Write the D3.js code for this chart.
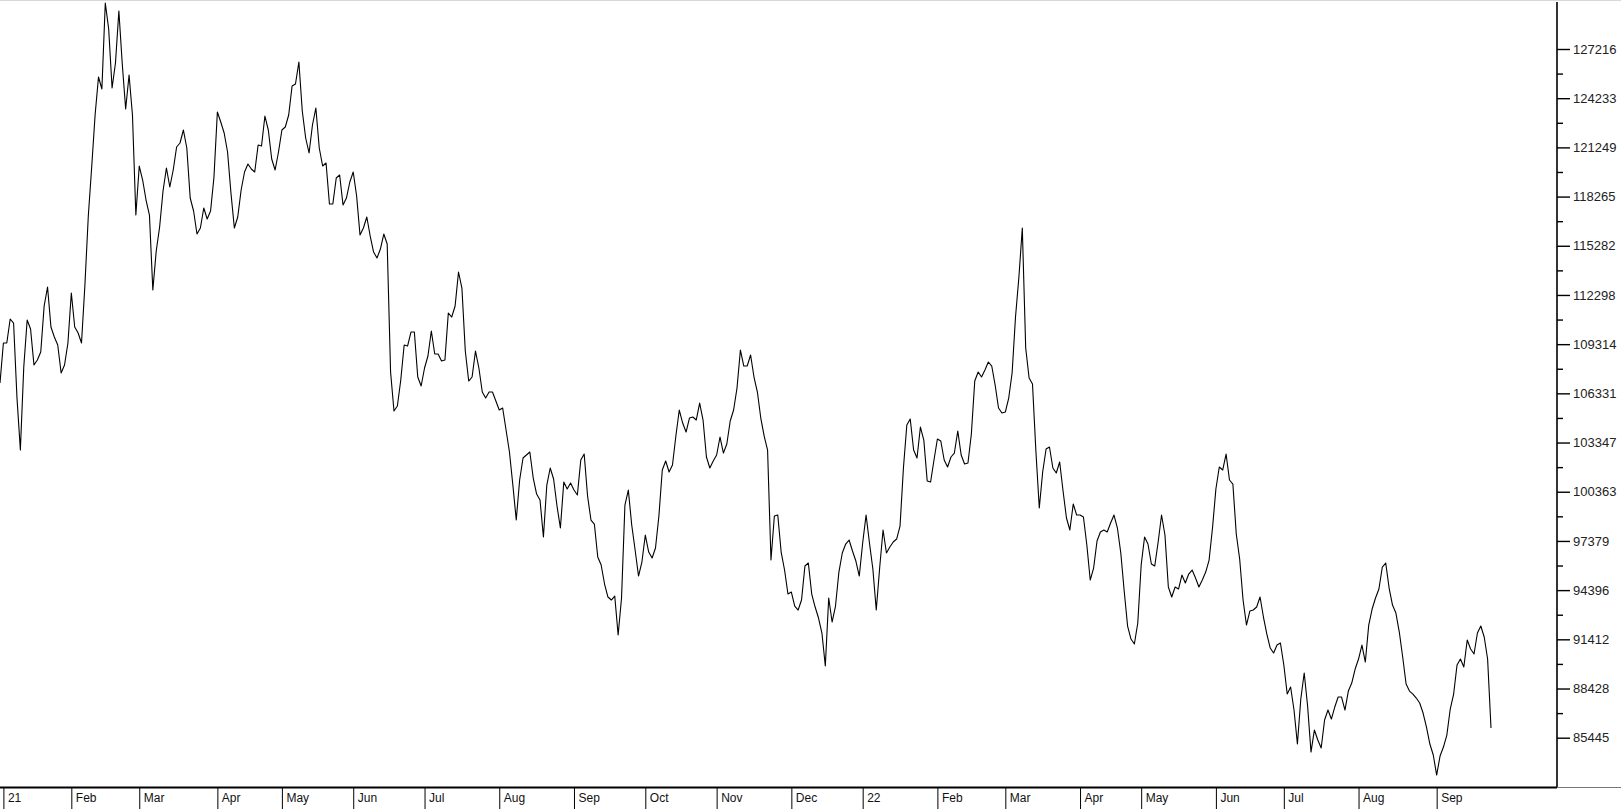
<!DOCTYPE html>
<html><head><meta charset="utf-8">
<script src="https://cdn.jsdelivr.net/npm/d3@7"></script>
<style>
html,body{margin:0;padding:0;background:#fff;overflow:hidden;}
svg{display:block;font-family:"Liberation Sans",Arial,sans-serif;}
</style></head><body>
<svg id="chart" width="1621" height="809"></svg>
<script>
// Daily closing values (one per trading day)
const values = [
106957,109383,109383,110839,110596,106047,102893,107928,110778,110232,
108049,108352,108837,111628,112780,110354,109747,109262,107564,108049,
109383,112416,110354,109990,109383,112901,117087,120059,123213,125518,
124790,130006,128429,124850,126367,129521,126306,123577,125639,123213,
117147,120119,119270,118057,117147,112598,114964,116419,118603,119998,
118846,119877,121272,121514,122303,121211,118178,117390,115995,116359,
117572,116905,117390,119452,123395,122788,122121,120968,118482,116359,
117026,118664,119755,120241,119937,119755,121393,121332,123152,122303,
120544,119877,120968,122303,122485,123213,124972,125093,126427,123455,
121818,120908,122606,123637,121211,120119,120301,117814,117814,119391,
119573,117754,118178,119149,119755,118300,115934,116359,117026,115873,
114903,114539,115085,115995,115388,107624,105259,105562,107139,109262,
109201,110051,110051,107321,106775,107867,108595,110111,108716,108716,
108292,108352,111203,110960,111628,113690,112719,108898,107078,107321,
108898,107867,106411,106047,106411,106411,105865,105319,105441,104106,
102772,100770,98647,101074,102408,102590,102772,101195,100224,99860,
97616,100770,101802,101134,99497,98162,100952,100528,100892,100467,
100164,102287,102651,100103,98647,98405,96403,95918,94766,93977,
93795,94038,91672,93916,99557,100467,98344,96828,95251,96100,
97738,96706,96342,96949,98890,101680,102226,101559,101983,103742,
105319,104531,103985,104834,104895,104713,105744,104713,102469,101802,
102226,102590,103682,102711,103257,104652,105319,106654,108959,107988,
107988,108656,107321,106411,104834,103742,102893,96221,98890,98951,
96706,95615,94159,94280,93431,93188,93795,95857,96039,94159,
93370,92703,91793,89792,93916,92461,93431,95493,96646,97192,
97434,96767,96160,95251,97252,98951,97252,95675,93188,95736,
98041,96646,97010,97313,97495,98284,101802,104410,104774,102893,
102408,104288,103500,101013,100952,102287,103560,103439,102287,101862,
102469,102711,104046,102590,102044,102105,103864,107078,107624,107321,
107746,108231,107988,106836,105441,105137,105198,106047,107564,110960,
113387,116359,109080,107260,106896,102833,99375,101559,102954,103075,
101802,101498,102165,100406,98769,98041,99618,98951,98951,98829,
97131,95008,95736,97374,97920,98041,97920,98465,98951,98162,
96646,94341,92218,91430,91126,92400,95918,97616,97192,95979,
95857,97313,98951,97738,94584,93977,94584,94462,95311,94826,
95372,95615,95129,94584,95008,95493,96221,98162,100528,101862,
101680,102651,101074,100831,97798,96282,93795,92279,93128,93188,
93370,93977,92764,91733,90884,90580,91066,91187,89852,88093,
88518,87123,85061,87790,89367,87366,84575,85910,85303,84818,
86516,87123,86577,87305,87912,87912,87123,88275,88761,89610,
90216,91066,90034,92279,93249,93916,94462,95797,96039,94523,
93492,93006,91854,90338,88700,88275,88093,87851,87548,86941,
86092,85061,84394,83180,84333,84879,85607,87184,88093,89852,
90216,89731,91369,90823,90520,91793,92218,91551,90216,86031
];

// Right-axis tick values (as printed)
const tickValues = [127216,124233,121249,118265,115282,112298,109314,106331,103347,100363,97379,94396,91412,88428,85445];

// Month labels and the trading-day index where each month starts
const monthLabels = ["21","Feb","Mar","Apr","May","Jun","Jul","Aug","Sep","Oct","Nov","Dec","22","Feb","Mar","Apr","May","Jun","Jul","Aug","Sep"];
const monthStarts = [1,21,41,64,83,104,125,147,169,190,211,233,254,276,296,318,336,358,378,400,423];

const W = 1621, H = 809;
const axisX = 1557, baseY = 787.5, lineEndX = 1491;

const svg = d3.select("#chart");

const x = d3.scaleLinear().domain([0, values.length - 1]).range([0, lineEndX]);
const y = d3.scaleLinear().domain([tickValues[tickValues.length - 1], tickValues[0]]).range([737.7, 49]);

// faint top border
svg.append("line").attr("x1", 0).attr("x2", W).attr("y1", 0.5).attr("y2", 0.5)
  .attr("stroke", "#d8d8d8").attr("stroke-width", 1);

// price line
svg.append("path").datum(values)
  .attr("fill", "none").attr("stroke", "#000").attr("stroke-width", 1.1)
  .attr("stroke-linejoin", "round")
  .attr("d", d3.line().x((d, i) => x(i)).y(d => y(d)));

// minor ticks (midpoints between labelled ticks)
const minorTicks = d3.pairs(tickValues).map(([a, b]) => (a + b) / 2);
const minorAxis = svg.append("g").attr("transform", `translate(${axisX},0)`)
  .call(d3.axisRight(y).tickValues(minorTicks).tickSize(6).tickFormat(""));
minorAxis.select(".domain").remove();
minorAxis.selectAll("line").attr("stroke", "#000").attr("stroke-width", 1.4);

// major ticks with labels
const yAxis = svg.append("g").attr("transform", `translate(${axisX},0)`)
  .call(d3.axisRight(y).tickValues(tickValues).tickSize(13).tickPadding(3).tickFormat(d3.format("d")));
yAxis.select(".domain").remove();
yAxis.selectAll("line").attr("stroke", "#000").attr("stroke-width", 1.4);
yAxis.selectAll("text").attr("fill", "#222").style("font-size", "13px")
  .style("font-family", '"Liberation Sans", Arial, sans-serif');

// right axis spine
svg.append("line").attr("x1", axisX).attr("x2", axisX).attr("y1", 2).attr("y2", baseY)
  .attr("stroke", "#000").attr("stroke-width", 1.6);

// bottom base line
svg.append("line").attr("x1", 0).attr("x2", axisX).attr("y1", baseY).attr("y2", baseY)
  .attr("stroke", "#000").attr("stroke-width", 2);
svg.append("line").attr("x1", axisX).attr("x2", W).attr("y1", baseY).attr("y2", baseY)
  .attr("stroke", "#777").attr("stroke-width", 1);

// month axis: separators running down from the base line, labels to the right
const xAxis = svg.append("g").attr("transform", `translate(0,${baseY})`)
  .call(d3.axisBottom(x).tickValues(monthStarts).tickSize(H - baseY)
    .tickFormat((d, i) => monthLabels[i]));
xAxis.select(".domain").remove();
xAxis.selectAll("line").attr("stroke", "#000").attr("stroke-width", 1);
xAxis.selectAll("text")
  .attr("x", 4).attr("y", 6).attr("dy", "0.71em")
  .attr("fill", "#111").style("text-anchor", "start")
  .style("font-size", "12px").style("font-family", '"Liberation Sans", Arial, sans-serif');
</script>
</body></html>
